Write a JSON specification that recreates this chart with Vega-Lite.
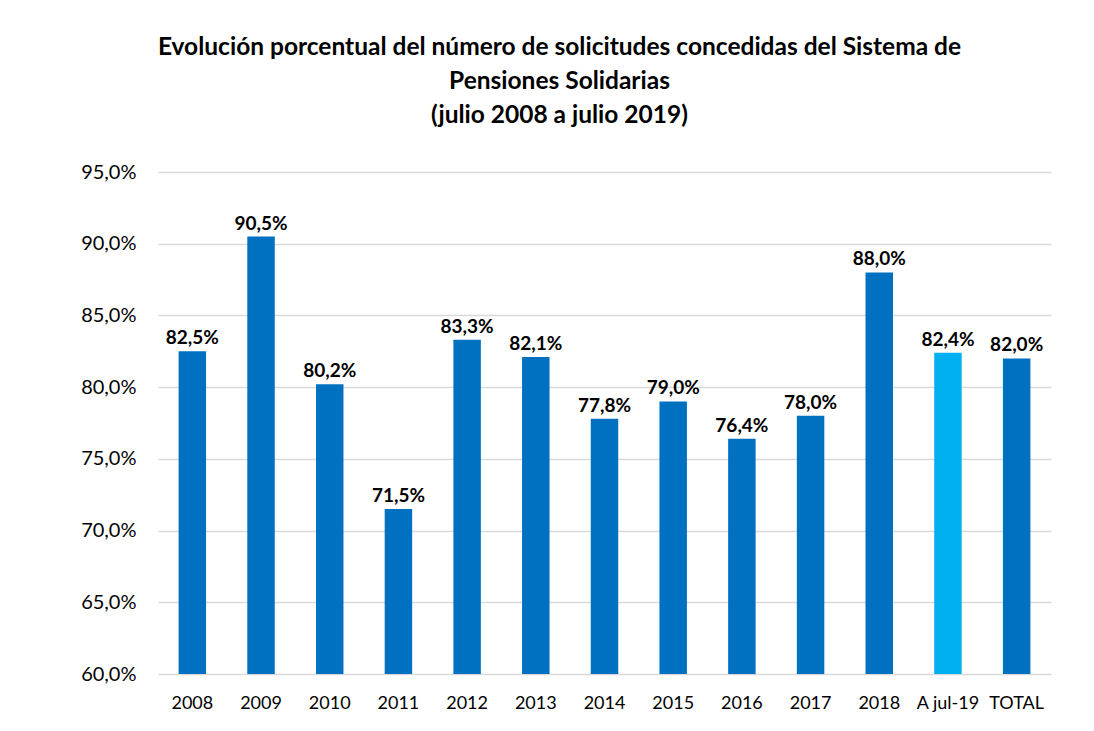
{
  "$schema": "https://vega.github.io/schema/vega-lite/v6.json",
  "width": 893,
  "height": 502,
  "autosize": {"type": "none"},
  "padding": {"left": 158, "top": 172, "right": 43, "bottom": 57},
  "background": "white",
  "title": {
    "text": ["Evolución porcentual del número de solicitudes concedidas del Sistema de", "Pensiones Solidarias", "(julio 2008 a julio 2019)"],
    "font": "Lato",
    "fontSize": 24.5,
    "fontWeight": "bold",
    "color": "#000000",
    "lineHeight": 34,
    "anchor": "middle",
    "dx": -45,
    "offset": 34
  },
  "data": {
    "values": [
      {"cat": "2008", "value": 82.5, "type": "anual"},
      {"cat": "2009", "value": 90.5, "type": "anual"},
      {"cat": "2010", "value": 80.2, "type": "anual"},
      {"cat": "2011", "value": 71.5, "type": "anual"},
      {"cat": "2012", "value": 83.3, "type": "anual"},
      {"cat": "2013", "value": 82.1, "type": "anual"},
      {"cat": "2014", "value": 77.8, "type": "anual"},
      {"cat": "2015", "value": 79.0, "type": "anual"},
      {"cat": "2016", "value": 76.4, "type": "anual"},
      {"cat": "2017", "value": 78.0, "type": "anual"},
      {"cat": "2018", "value": 88.0, "type": "anual"},
      {"cat": "A jul-19", "value": 82.4, "type": "parcial"},
      {"cat": "TOTAL", "value": 82.0, "type": "anual"}
    ]
  },
  "encoding": {
    "x": {
      "field": "cat",
      "type": "nominal",
      "sort": null,
      "scale": {"paddingInner": 0.6, "paddingOuter": 0.3},
      "axis": {
        "title": null,
        "labelAngle": 0,
        "labelFont": "Lato",
        "labelFontSize": 18,
        "labelColor": "#000000",
        "labelPadding": 20,
        "ticks": false,
        "domain": false
      }
    },
    "y": {
      "field": "value",
      "type": "quantitative",
      "scale": {"domain": [60, 95], "nice": false, "zero": false},
      "axis": {
        "title": null,
        "values": [60, 65, 70, 75, 80, 85, 90, 95],
        "labelExpr": "replace(format(datum.value, '.1f'), '.', ',') + '%'",
        "labelFont": "Lato",
        "labelFontSize": 20,
        "labelColor": "#000000",
        "labelPadding": 22,
        "ticks": false,
        "domain": false,
        "grid": true,
        "gridColor": "#d9d9d9",
        "gridWidth": 1.5
      }
    }
  },
  "layer": [
    {
      "mark": {"type": "bar"},
      "encoding": {
        "y2": {"datum": 60},
        "color": {
          "field": "type",
          "type": "nominal",
          "scale": {"domain": ["anual", "parcial"], "range": ["#0070C0", "#00B0F0"]},
          "legend": null
        }
      }
    },
    {
      "mark": {"type": "text", "baseline": "bottom", "dy": -3, "font": "Lato", "fontSize": 19, "fontWeight": "bold", "color": "#000000"},
      "encoding": {
        "text": {"field": "label"}
      },
      "transform": [{"calculate": "replace(format(datum.value, '.1f'), '.', ',') + '%'", "as": "label"}]
    }
  ],
  "config": {"view": {"stroke": null}}
}
